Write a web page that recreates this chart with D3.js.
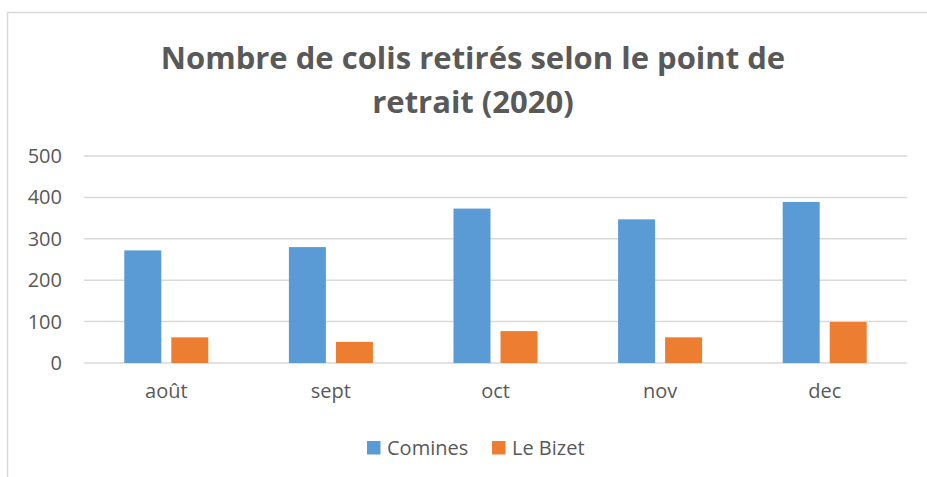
<!DOCTYPE html>
<html>
<head>
<meta charset="utf-8">
<script src="https://cdn.jsdelivr.net/npm/d3@7"></script>
<style>
  body { margin: 0; background: #fff; }
  text { font-family: "Open Sans", sans-serif; fill: #595959; }
</style>
</head>
<body>
<svg id="main" width="927" height="477"></svg>
<script>
// data
var months = ["août", "sept", "oct", "nov", "dec"];
var series = ["Comines", "Le Bizet"];
var comines = [272, 280, 373, 347, 389];
var leBizet = [62, 51, 77, 62, 99];
var yTicks = [0, 100, 200, 300, 400, 500];
var titleLines = ["Nombre de colis retirés selon le point de", "retrait (2020)"];

var colors = { "Comines": "#5B9BD5", "Le Bizet": "#ED7D31" };
var values = { "Comines": comines, "Le Bizet": leBizet };

var svg = d3.select("#main");

var margin = { left: 84, right: 20, top: 156, bottom: 114 };
var width = 927, height = 477;

// chart frame (right + bottom edges are cropped in the original)
svg.append("path")
  .attr("d", "M7.5,477 V12.5 H927")
  .attr("fill", "none")
  .attr("stroke", "#d9d9d9")
  .attr("stroke-width", 1.5);

// title
svg.append("g")
  .selectAll("text")
  .data(titleLines)
  .enter()
  .append("text")
  .attr("x", 473)
  .attr("y", function(d, i) { return 69 + i * 44; })
  .attr("text-anchor", "middle")
  .style("font-size", "31px")
  .style("font-weight", "bold")
  .text(function(d) { return d; });

var x = d3.scaleBand()
  .domain(months)
  .range([margin.left, width - margin.right]);

var x1 = d3.scaleBand()
  .domain(series)
  .range([0, x.bandwidth()])
  .paddingInner(0.213)
  .paddingOuter(0.857);

var y = d3.scaleLinear()
  .domain([0, 500])
  .range([height - margin.bottom, margin.top]);

// gridlines
svg.append("g")
  .attr("class", "grid")
  .selectAll("line")
  .data(yTicks)
  .enter()
  .append("line")
  .attr("x1", margin.left)
  .attr("x2", width - margin.right)
  .attr("y1", function(d) { return y(d); })
  .attr("y2", function(d) { return y(d); })
  .attr("stroke", "#d9d9d9")
  .attr("stroke-width", 1.5);

// y axis labels
var yAxis = d3.axisLeft(y).tickValues(yTicks).tickSize(0).tickPadding(22);
svg.append("g")
  .attr("transform", "translate(" + margin.left + ",0)")
  .call(yAxis)
  .call(function(g) {
    g.select(".domain").remove();
    g.selectAll("text")
      .attr("fill", "#595959")
      .style("font-size", "20px")
      .style("font-family", "Open Sans, sans-serif");
  });

// bars
var groups = svg.append("g")
  .selectAll("g")
  .data(months)
  .enter()
  .append("g")
  .attr("transform", function(d) { return "translate(" + x(d) + ",0)"; });

groups.selectAll("rect")
  .data(function(m, i) {
    return series.map(function(s) { return { key: s, value: values[s][i] }; });
  })
  .enter()
  .append("rect")
  .attr("x", function(d) { return x1(d.key); })
  .attr("width", x1.bandwidth())
  .attr("y", function(d) { return y(d.value); })
  .attr("height", function(d) { return y(0) - y(d.value); })
  .attr("fill", function(d) { return colors[d.key]; });

// x axis labels
var xAxis = d3.axisBottom(x).tickSize(0).tickPadding(21);
svg.append("g")
  .attr("transform", "translate(0," + y(0) + ")")
  .call(xAxis)
  .call(function(g) {
    g.select(".domain").remove();
    g.selectAll("text")
      .attr("fill", "#595959")
      .style("font-size", "20px")
      .style("font-family", "Open Sans, sans-serif");
  });

// legend
var legendX = [367, 492];
var legend = svg.append("g")
  .selectAll("g")
  .data(series)
  .enter()
  .append("g")
  .attr("transform", function(d, i) { return "translate(" + legendX[i] + ",441)"; });

legend.append("rect")
  .attr("width", 13.5)
  .attr("height", 13.5)
  .attr("fill", function(d) { return colors[d]; });

legend.append("text")
  .attr("x", 20)
  .attr("y", 13.5)
  .style("font-size", "20px")
  .text(function(d) { return d; });
</script>
</body>
</html>
